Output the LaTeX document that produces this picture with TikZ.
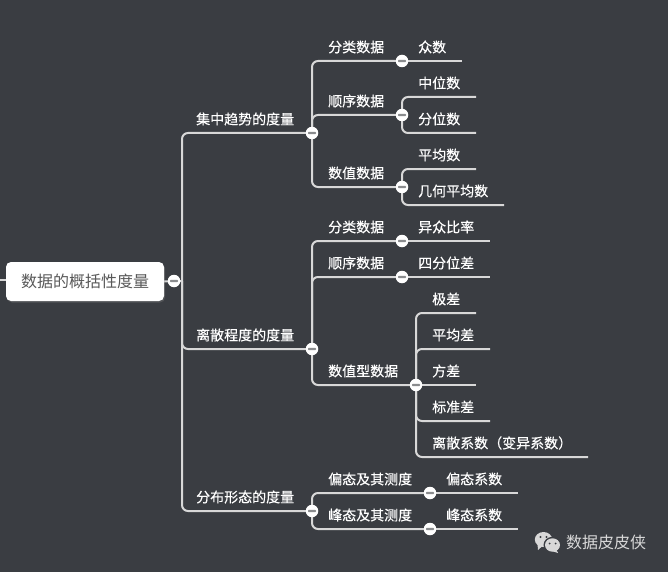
\documentclass[tikz,border=0pt]{standalone}
\usepackage{fontspec}
\setmainfont{Noto Sans CJK SC}
\newfontfamily\labfont[FakeBold=0.3]{Noto Sans CJK SC}
\usetikzlibrary{backgrounds,shadows}
\definecolor{bgdark}{HTML}{3A3D42}
\definecolor{linegray}{HTML}{D8D8D8}
\definecolor{rootgray}{HTML}{595959}
\definecolor{barsgray}{HTML}{8A8C8E}
\tikzset{
  lab/.style={anchor=west,inner sep=0pt,text=white,font=\labfont\fontsize{14}{14}\selectfont},
  toggle/.style={circle,fill=white,minimum size=12.5pt,inner sep=0pt,
    path picture={\fill[barsgray,rounded corners=.8pt] ([shift={(-4pt,-1.2pt)}]path picture bounding box.center) rectangle ([shift={(4pt,1.2pt)}]path picture bounding box.center);}},
  conn/.style={draw=linegray,line width=2pt,rounded corners=6pt},
  rootbox/.style={fill=white,rounded corners=5pt,minimum width=158pt,minimum height=39pt,inner sep=0pt,
    text=rootgray,font=\fontsize{16}{16}\selectfont,drop shadow={shadow xshift=1pt,shadow yshift=-1.5pt,opacity=.35}},
}
\begin{document}
\begin{tikzpicture}[x=1pt,y=-1pt]
  \useasboundingbox (0,0) rectangle (668,572);
  % root
  \node[rootbox] (root) at (85,281.5) {数据的概括性度量};
  \node[toggle] (rt) at (174,281) {};
  \coordinate (rootin) at (0,280);
  \coordinate (trunk) at (182,281);
  % first level
  \node[toggle] (g1) at (312,133) {};
  \node[toggle] (g2) at (312,349) {};
  \node[toggle] (g3) at (312,511) {};
  \path (196,119) node[lab] (l1) {集中趋势的度量};
  \path (196,335) node[lab] (l2) {离散程度的度量};
  \path (196,497) node[lab] (l3) {分布形态的度量};
  % second level
  \node[toggle] (a1) at (402,61) {};
  \node[toggle] (a2) at (402,115) {};
  \node[toggle] (a3) at (402,187) {};
  \node[toggle] (b1) at (402,241) {};
  \node[toggle] (b2) at (402,277) {};
  \node[toggle] (b3) at (416,385) {};
  \node[toggle] (c1) at (430,493) {};
  \node[toggle] (c2) at (430,529) {};
  \path (328,47) node[lab] (la1) {分类数据} (328,101) node[lab] (la2) {顺序数据} (328,173) node[lab] (la3) {数值数据};
  \path (328,227) node[lab] (lb1) {分类数据} (328,263) node[lab] (lb2) {顺序数据} (328,371) node[lab] (lb3) {数值型数据};
  \path (328,479) node[lab] (lc1) {偏态及其测度} (328,515) node[lab] (lc2) {峰态及其测度};
  % leaves
  \path (418,47) node[lab] (ta1) {众数};
  \path (418,83) node[lab] (ta2) {中位数} (418,119) node[lab] (ta3) {分位数};
  \path (418,155) node[lab] (ta4) {平均数} (418,191) node[lab] (ta5) {几何平均数};
  \path (418,227) node[lab] (tb1) {异众比率} (418,263) node[lab] (tb2) {四分位差};
  \path (432,299) node[lab] (tb3) {极差} (432,335) node[lab] (tb4) {平均差} (432,371) node[lab] (tb5) {方差};
  \path (432,407) node[lab] (tb6) {标准差} (432,443) node[lab] (tb7) {离散系数（变异系数）};
  \path (446,479) node[lab] (tc1) {偏态系数} (446,515) node[lab] (tc2) {峰态系数};
  \coordinate (ea1) at (462,61);
  \coordinate (ea2) at (476,97);
  \coordinate (ea3) at (476,133);
  \coordinate (ea4) at (476,169);
  \coordinate (ea5) at (504,205);
  \coordinate (eb1) at (490,241);
  \coordinate (eb2) at (490,277);
  \coordinate (eb3) at (476,313);
  \coordinate (eb4) at (490,349);
  \coordinate (eb5) at (476,385);
  \coordinate (eb6) at (490,421);
  \coordinate (eb7) at (588,457);
  \coordinate (ec1) at (518,493);
  \coordinate (ec2) at (518,529);
  % connectors
  \begin{scope}[on background layer]
    \fill[bgdark] (0,0) rectangle (668,572);
    \draw[conn] (rootin) -- (root.west |- rootin);
    \draw[conn] (root.east) -- (rt.center) -- (trunk);
    \draw[conn] (trunk) |- (g1.center);
    \draw[conn] (trunk) |- (g2.center);
    \draw[conn] (trunk) |- (g3.center);
    \foreach \g/\a in {g1/a1,g1/a2,g1/a3,g2/b1,g2/b2,g2/b3,g3/c1,g3/c2}
      \draw[conn] (\g.center) |- (\a.center);
    \draw[conn] (a1.center) -- (ea1);
    \foreach \a/\e in {a2/ea2,a2/ea3,a3/ea4,a3/ea5,b3/eb3,b3/eb4,b3/eb6,b3/eb7}
      \draw[conn] (\a.center) |- (\e);
    \draw[conn] (b1.center) -- (eb1);
    \draw[conn] (b2.center) -- (eb2);
    \draw[conn] (b3.center) -- (eb5);
    \draw[conn] (c1.center) -- (ec1);
    \draw[conn] (c2.center) -- (ec2);
  \end{scope}
  % watermark
  \fill[linegray] (543.5,539.5) ellipse (8.7 and 7.5);
  \fill[linegray] (537.5,544) -- (538,550) -- (543,545.5) -- cycle;
  \fill[bgdark] (552.5,545) ellipse (9 and 8.2);
  \fill[linegray] (552.5,545) ellipse (7.5 and 6.7);
  \fill[linegray] (556,549) -- (558,553) -- (552,551) -- cycle;
  \fill[bgdark] (540.5,537) circle (1.2) (546.5,537) circle (1.2);
  \fill[bgdark] (549.5,543.5) circle (1) (555.5,543.5) circle (1);
  \path (566,542) node[anchor=west,inner sep=0pt,text=linegray,font=\fontsize{16}{16}\selectfont] (mark) {数据皮皮侠};
\end{tikzpicture}
\end{document}
